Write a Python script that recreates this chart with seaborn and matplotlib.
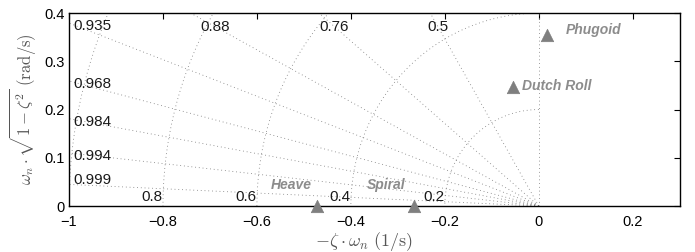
import numpy as np
import pandas as pd
import matplotlib
matplotlib.use("Agg")
import matplotlib.pyplot as plt
import seaborn as sns

# ---- data ----
modes = ["Heave", "Spiral", "Dutch Roll", "Phugoid"]
real_part = [-0.472, -0.266, -0.055, 0.017]
imag_part = [0.0, 0.0, 0.247, 0.355]

zeta_values = [0.999, 0.994, 0.984, 0.968, 0.935, 0.88, 0.76, 0.5, 0.0]
wn_values = [0.2, 0.4, 0.6, 0.8, 1.0]
wn_labels = [0.2, 0.4, 0.6, 0.8]

xticks = [-1, -0.8, -0.6, -0.4, -0.2, 0, 0.2]
yticks = [0, 0.1, 0.2, 0.3, 0.4]

sns.set_theme(style="white")
plt.rcParams['font.family'] = ['Liberation Sans', 'DejaVu Sans']
plt.rcParams['mathtext.fontset'] = 'cm'

fig = plt.figure(figsize=(6.95, 2.52), dpi=100)
ax = fig.add_axes([0.0993, 0.1825, 0.8787, 0.7655])

xmin, xmax, ymin, ymax = -1, 0.3, 0, 0.4
grid_kw = dict(color="#7a7a7a", linestyle=(0, (1, 3.5)), linewidth=0.6, zorder=1)

# damping lines
for z in zeta_values:
    if z == 0:
        xs = np.array([0, 0]); ys = np.array([0, 2])
    else:
        ang = np.arccos(z)
        r = np.linspace(0, 2, 400)
        xs = -r * np.cos(ang); ys = r * np.sin(ang)
    ax.plot(xs, ys, **grid_kw)

# natural frequency arcs
th = np.linspace(np.pi / 2, np.pi, 400)
for wn in wn_values:
    ax.plot(wn * np.cos(th), wn * np.sin(th), **grid_kw)

# zeta labels
lab_color = "#1a1a1a"
for z in zeta_values:
    if z == 0:
        continue
    slope = np.sqrt(1 - z ** 2) / z
    y_at_left = slope * 1.0
    if y_at_left < ymax * 0.97:
        ax.text(-0.99, max(y_at_left - 0.007, 0.054), f"{z:g}", ha="left", va="center",
                fontsize=11, color=lab_color, zorder=3)
    else:
        x_top = -0.372 / slope
        ax.text(x_top, 0.371, f"{z:g}", ha="center", va="center",
                fontsize=11, color=lab_color, zorder=3)

# wn labels
for wn in wn_labels:
    ax.text(-wn, 0.004, f"{wn:g}", ha="right", va="bottom", fontsize=11,
            color=lab_color, zorder=3)

# poles
df = pd.DataFrame({"re": real_part, "im": imag_part, "mode": modes})
sns.scatterplot(data=df, x="re", y="im", marker="^", s=80, color="#7f7f7f",
                edgecolor="#7f7f7f", linewidth=0.5, ax=ax, zorder=5, clip_on=False,
                legend=False)

label_kw = dict(fontsize=10, color="#8c8c8c", fontstyle="italic", fontweight="bold", zorder=6)
ax.text(real_part[0] - 0.012, 0.044, modes[0], ha="right", va="center", **label_kw)
ax.text(real_part[1] - 0.018, 0.044, modes[1], ha="right", va="center", **label_kw)
ax.text(real_part[2] + 0.02, imag_part[2] + 0.002, modes[2], ha="left", va="center", **label_kw)
ax.text(real_part[3] + 0.04, imag_part[3] + 0.01, modes[3], ha="left", va="center", **label_kw)

ax.set_xlim(xmin, xmax)
ax.set_ylim(ymin, ymax)
ax.set_xticks(xticks)
ax.set_yticks(yticks)
ax.set_xticklabels(["\u22121", "\u22120.8", "\u22120.6", "\u22120.4", "\u22120.2", "0", "0.2"])
ax.set_yticklabels(["0", "0.1", "0.2", "0.3", "0.4"])
ax.tick_params(direction="in", length=4, width=0.8, top=True, right=True,
               labelsize=10.5, colors="black", pad=3)
ax.tick_params(axis="x", pad=6.5)
ax.tick_params(axis="both", labelcolor="black")
for s in ax.spines.values():
    s.set_visible(True)
    s.set_color("black")
    s.set_linewidth(1.0)

ax.set_xlabel(r"$-\zeta \cdot \omega_n\ (1/\mathrm{s})$", fontsize=13, color="#555555")
ax.xaxis.set_label_coords(0.4836, -0.125)
ax.set_ylabel(r"$\omega_n \cdot \sqrt{1-\zeta^2}\ (\mathrm{rad/s})$", fontsize=12,
              color="#555555")
ax.yaxis.set_label_coords(-0.05, 0.5)
ax.set_facecolor("white")
fig.patch.set_facecolor("white")

fig.savefig("out.png", dpi=100)
